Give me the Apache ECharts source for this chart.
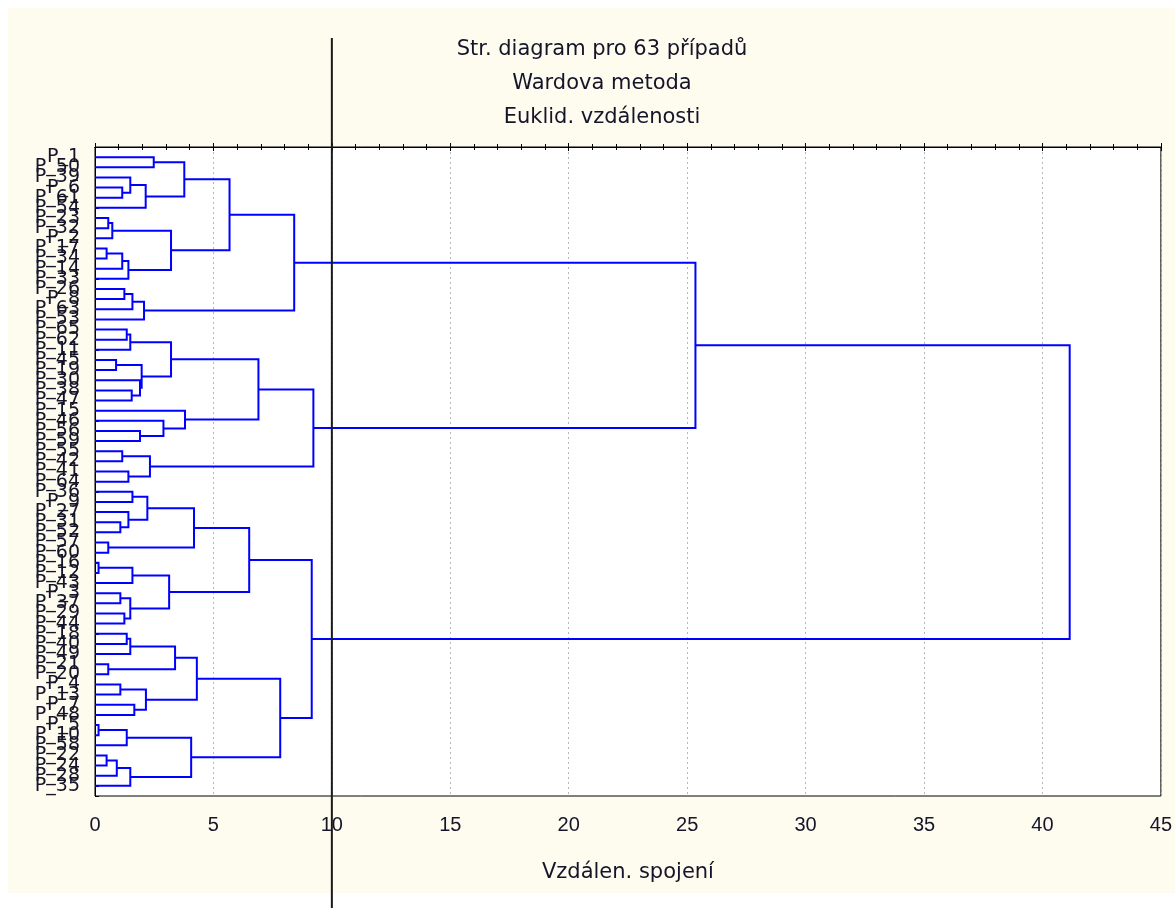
<!DOCTYPE html>
<html>
<head>
<meta charset="utf-8">
<title>Str. diagram</title>
<script src="https://cdn.jsdelivr.net/npm/echarts@6/dist/echarts.min.js"></script>
<style>
  html, body { margin: 0; padding: 0; background: #fff; }
  #chart { width: 1175px; height: 908px; }
</style>
</head>
<body>
<div id="chart"></div>
<script>
// leaf order top → bottom
const leafLabels = [
  'P_1', 'P_50', 'P_39', 'P_6', 'P_61', 'P_54', 'P_23', 'P_32', 'P_2', 'P_17',
  'P_34', 'P_14', 'P_33', 'P_26', 'P_8', 'P_63', 'P_53', 'P_65', 'P_62', 'P_11',
  'P_45', 'P_19', 'P_30', 'P_38', 'P_47', 'P_15', 'P_46', 'P_56', 'P_59', 'P_55',
  'P_42', 'P_41', 'P_64', 'P_36', 'P_9', 'P_27', 'P_31', 'P_52', 'P_57', 'P_60',
  'P_16', 'P_12', 'P_43', 'P_3', 'P_37', 'P_29', 'P_44', 'P_18', 'P_40', 'P_49',
  'P_21', 'P_20', 'P_4', 'P_13', 'P_7', 'P_48', 'P_5', 'P_10', 'P_58', 'P_22',
  'P_24', 'P_28', 'P_35'
]

// linkage: [node a, node b, distance]; ids >= 63 are earlier merges (63 + row)
const merges = [
  [3, 4, 1.15], [2, 63, 1.49], [64, 5, 2.14], [0, 1, 2.48], [66, 65, 3.77],
  [6, 7, 0.56], [68, 8, 0.73], [9, 10, 0.49], [70, 11, 1.15], [71, 12, 1.41],
  [69, 72, 3.21], [67, 73, 5.68], [13, 14, 1.24], [75, 15, 1.58], [76, 16, 2.07],
  [74, 77, 8.41], [17, 18, 1.34], [79, 19, 1.49], [20, 21, 0.89], [23, 24, 1.55],
  [22, 82, 1.9], [81, 83, 1.97], [80, 84, 3.21], [27, 28, 1.9], [26, 86, 2.89],
  [25, 87, 3.8], [85, 88, 6.9], [29, 30, 1.15], [31, 32, 1.41], [90, 91, 2.32],
  [89, 92, 9.22], [78, 93, 25.35], [33, 34, 1.58], [36, 37, 1.07], [35, 96, 1.41],
  [95, 97, 2.21], [38, 39, 0.56], [98, 99, 4.18], [40, 41, 0.15], [101, 42, 1.58],
  [43, 44, 1.07], [45, 46, 1.24], [103, 104, 1.49], [102, 105, 3.13], [100, 106, 6.51],
  [47, 48, 1.34], [108, 49, 1.49], [50, 51, 0.56], [109, 110, 3.38], [52, 53, 1.07],
  [54, 55, 1.66], [112, 113, 2.15], [111, 114, 4.3], [56, 57, 0.15], [116, 58, 1.34],
  [59, 60, 0.49], [118, 61, 0.92], [119, 62, 1.49], [117, 120, 4.06], [115, 121, 7.82],
  [107, 122, 9.15], [94, 123, 41.15]
]

const distMax = 45
const distStep = 5
const cutDistance = 10
const titleLines = ['Str. diagram pro 63 případů', 'Wardova metoda', 'Euklid. vzdálenosti']
const axisTitle = 'Vzdálen. spojení'

const FONT = "'Liberation Sans', Arial, sans-serif"
const WIDE = "'DejaVu Sans', Verdana, sans-serif"
const TEXT = '#15152a'

// node positions: leaves at 1..n, merges at the midpoint of their children
const nodeY = leafLabels.map((_, i) => i + 1)
const nodeH = leafLabels.map(() => 0)
const links = merges.map(([a, b, h]) => {
  const item = {
    coords: [[nodeH[a], nodeY[a]], [h, nodeY[a]], [h, nodeY[b]], [nodeH[b], nodeY[b]]],
  }
  nodeY.push((nodeY[a] + nodeY[b]) / 2)
  nodeH.push(h)
  return item
})

const chart = echarts.init(document.getElementById('chart'), null, { renderer: 'canvas' })

const xCommon = {
  type: 'value',
  min: 0,
  max: distMax,
  interval: distStep,
  axisLine: { show: true, lineStyle: { color: '#000', width: 1 } },
  axisTick: { show: true, inside: true, length: 4, lineStyle: { color: '#000' } },
  minorTick: { show: true, splitNumber: 5, length: 3, lineStyle: { color: '#000' } },
}

chart.setOption({
  animation: false,
  backgroundColor: '#fff',
  title: {
    text: titleLines.join('\n'),
    left: 597,
    top: 28,
    textAlign: 'center',
    textStyle: { fontFamily: WIDE, fontSize: 21, fontWeight: 'normal', color: TEXT, lineHeight: 34 },
  },
  grid: {
    left: 95, right: 11, top: 147, bottom: 112,
    show: true, backgroundColor: '#fff', borderColor: '#000', borderWidth: 1,
  },
  xAxis: [
    {
      ...xCommon,
      position: 'bottom',
      name: axisTitle,
      nameLocation: 'middle',
      nameGap: 66,
      nameTextStyle: { fontFamily: WIDE, fontSize: 21, color: TEXT },
      axisLabel: { fontFamily: FONT, fontSize: 20, color: TEXT, margin: 19 },
      splitLine: { show: true, lineStyle: { color: '#b8b8b8', type: [2, 3], width: 1 } },
    },
    {
      ...xCommon,
      position: 'top',
      axisLabel: { show: false },
      splitLine: { show: false },
    },
  ],
  yAxis: {
    type: 'value',
    min: 0,
    max: leafLabels.length + 1,
    interval: 1,
    inverse: true,
    axisLine: { show: true, lineStyle: { color: '#000' } },
    axisTick: { show: true, inside: true, length: 4, lineStyle: { color: '#000', width: 1 } },
    splitLine: { show: false },
    axisLabel: {
      fontFamily: WIDE,
      fontSize: 19,
      color: TEXT,
      margin: 15,
      formatter: (v) => leafLabels[v - 1] || '',
    },
  },
  series: [
    {
      type: 'lines',
      coordinateSystem: 'cartesian2d',
      polyline: true,
      silent: true,
      lineStyle: { color: '#0000ff', width: 2, opacity: 1 },
      data: links,
      z: 3,
    },
  ],
})

// cream page panel and the cut line at distance 10
const cutX = chart.convertToPixel({ xAxisIndex: 0 }, cutDistance)
chart.setOption({
  graphic: [
    {
      type: 'rect', z: -10, silent: true,
      shape: { x: 8, y: 8, width: 1167, height: 885 },
      style: { fill: '#fefbef' },
    },
    {
      type: 'line', z: 100, silent: true,
      shape: { x1: cutX, y1: 38, x2: cutX, y2: 908 },
      style: { stroke: '#1a1a1a', lineWidth: 2 },
    },
  ],
})

window.addEventListener('resize', () => chart.resize())
</script>
</body>
</html>
